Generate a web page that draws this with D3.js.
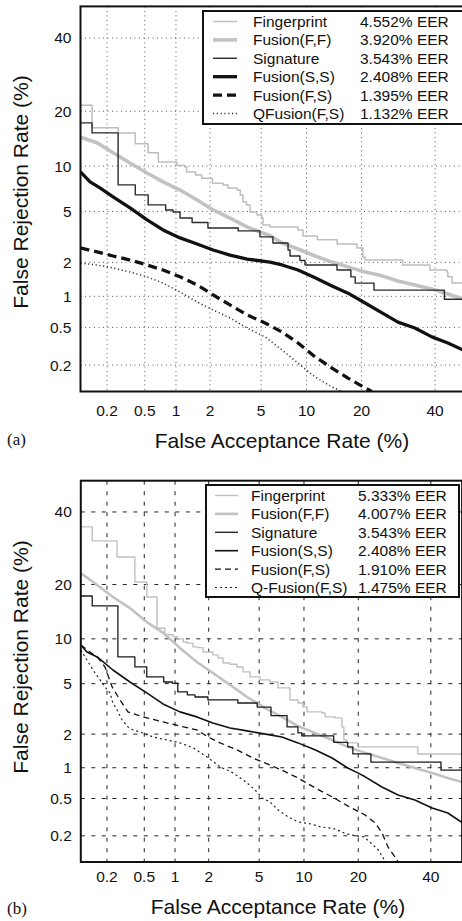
<!DOCTYPE html>
<html>
<head>
<meta charset="utf-8">
<script src="https://cdn.jsdelivr.net/npm/d3@7"></script>
<style>
  body { margin: 0; background: #fff; }
  svg text { font-family: "Liberation Sans", Arial, sans-serif; fill: #111; }
</style>
</head>
<body>
<script>
// tick values (%), both axes
var ticks = [0.2, 0.5, 1, 2, 5, 10, 20, 40];

var labelsA = ["Fingerprint", "Fusion(F,F)", "Signature", "Fusion(S,S)", "Fusion(F,S)", "QFusion(F,S)"];
var eerA = ["4.552% EER", "3.920% EER", "3.543% EER", "2.408% EER", "1.395% EER", "1.132% EER"];
var labelsB = ["Fingerprint", "Fusion(F,F)", "Signature", "Fusion(S,S)", "Fusion(F,S)", "Q-Fusion(F,S)"];
var eerB = ["5.333% EER", "4.007% EER", "3.543% EER", "2.408% EER", "1.910% EER", "1.475% EER"];

// [FAR %, FRR %]
var fingerprintA = [[0.1,21.4],[0.136,16.5],[0.264,15.5],[0.40,13.5],[0.54,12.0],[0.68,10.6],[1.02,10.1],[1.21,9.86],[1.25,9.2],[1.5,8.8],[1.7,8.4],[2.08,8.2],[2.1,7.8],[2.56,7.6],[2.8,7.26],[3.3,7.03],[3.5,6.52],[3.67,5.83],[3.9,5.56],[4.15,4.95],[4.67,4.70],[5.05,4.47],[5.15,3.97],[5.77,3.84],[8.85,3.64],[9.5,3.27],[11.6,3.05],[15,2.83],[19,2.63],[20.3,2.22],[20.8,2.09],[30.4,1.90],[38.4,1.72],[43.7,1.65],[44,1.50],[45.3,1.32],[50,1.32]];
var fusionFFA = [[0.1,14.7],[0.155,13.7],[0.233,12.0],[0.353,10.45],[0.527,9.06],[0.755,7.95],[1.09,7.03],[1.55,6.02],[2.12,5.12],[2.91,4.47],[3.94,3.84],[4.9,3.51],[5.77,3.3],[6.97,2.88],[8.85,2.58],[11.25,2.26],[14.05,2.01],[17.1,1.83],[20.8,1.65],[24.9,1.53],[29.1,1.38],[33.9,1.27],[39.0,1.17],[44.0,1.05],[50,0.92]];
var signatureA = [[0.1,17.5],[0.136,15.5],[0.264,7.6],[0.40,6.52],[0.54,5.56],[0.80,5.12],[0.94,4.95],[1.09,4.47],[1.40,4.15],[1.92,3.77],[3.37,3.58],[4.9,3.22],[6.05,2.88],[7.64,2.53],[7.87,2.26],[9.1,2.07],[9.78,1.90],[14.96,1.72],[17.7,1.50],[18.6,1.32],[22.9,1.14],[42.9,0.94],[50,0.94]];
var fusionSSA = [[0.1,9.2],[0.129,7.95],[0.167,7.26],[0.233,6.32],[0.353,5.29],[0.527,4.33],[0.755,3.64],[1.09,3.16],[1.55,2.83],[2.12,2.53],[2.91,2.30],[3.94,2.13],[5.77,2.01],[6.97,1.90],[8.85,1.72],[11.25,1.47],[14.05,1.245],[17.1,1.07],[20.8,0.866],[24.9,0.695],[29.1,0.565],[33.9,0.493],[39,0.40],[44,0.346],[50,0.28]];
var fusionFSA = [[0.1,2.63],[0.155,2.44],[0.233,2.26],[0.353,2.09],[0.527,1.90],[0.755,1.72],[1.09,1.50],[1.55,1.27],[2.12,1.03],[2.91,0.83],[3.94,0.665],[5.33,0.553],[6.97,0.449],[8.85,0.346],[11.25,0.246],[14.05,0.185],[17.1,0.143],[20.8,0.11],[22.4,0.1]];
var qfusionA = [[0.1,1.97],[0.155,1.90],[0.233,1.79],[0.353,1.65],[0.527,1.50],[0.755,1.32],[1.09,1.095],[1.55,0.885],[2.12,0.742],[2.91,0.62],[3.94,0.493],[5.33,0.40],[6.97,0.292],[8.85,0.21],[11.25,0.147],[14.05,0.113],[15.9,0.1]];

var fingerprintB = [[0.1,35.4],[0.136,31.3],[0.258,26.8],[0.40,20.6],[0.53,17.3],[0.67,11.6],[0.80,10.6],[0.96,10.3],[1.05,10.0],[1.19,9.56],[1.3,9.4],[1.46,8.9],[1.6,8.8],[1.79,8.26],[2.17,7.9],[2.4,7.55],[2.63,6.98],[3.0,6.85],[3.4,6.55],[3.79,6.06],[4.28,5.59],[5.08,5.32],[5.97,5.14],[6.78,4.66],[8.15,3.78],[9.17,3.58],[9.86,3.33],[10.45,3.05],[12.8,2.99],[13.35,2.78],[15.15,2.73],[16.5,2.30],[16.9,1.78],[17.5,1.68],[19.9,1.55],[36.0,1.34],[50,1.34]];
var fusionFFB = [[0.1,22.7],[0.155,19.9],[0.233,17.3],[0.355,15.1],[0.53,12.6],[0.767,10.9],[1.11,8.77],[1.58,7.09],[2.17,5.96],[3.0,4.9],[4.07,3.98],[5.08,3.46],[5.5,3.27],[7.2,2.78],[9.17,2.34],[11.65,2.05],[14.6,1.78],[17.7,1.55],[21.6,1.37],[25.8,1.23],[30.2,1.11],[35.1,0.995],[40.4,0.894],[45.4,0.80],[50,0.73]];
var signatureB = [[0.1,17.5],[0.136,15.5],[0.264,7.66],[0.40,6.56],[0.53,5.59],[0.78,5.14],[0.94,5.05],[1.06,4.35],[1.3,4.13],[1.52,3.98],[1.97,3.78],[3.46,3.58],[4.84,3.33],[6.07,2.85],[7.8,2.30],[9.17,2.05],[9.7,1.93],[14.9,1.70],[17.7,1.55],[18.8,1.34],[23.0,1.13],[43.2,0.95],[50,0.95]];
var fusionSSB = [[0.1,9.16],[0.118,8.26],[0.155,7.66],[0.233,6.25],[0.355,5.14],[0.53,4.27],[0.767,3.52],[1.11,3.05],[1.58,2.78],[2.17,2.48],[3.0,2.25],[4.07,2.13],[5.97,1.97],[7.2,1.89],[9.17,1.68],[11.65,1.46],[14.6,1.23],[17.7,0.995],[19.9,0.894],[21.6,0.82],[25.8,0.653],[30.2,0.543],[35.1,0.484],[40.4,0.40],[45.4,0.354],[50,0.28]];
var fusionFSB = [[0.1,9.16],[0.128,8.26],[0.155,7.66],[0.19,6.56],[0.228,4.74],[0.278,3.78],[0.338,3.05],[0.42,2.88],[0.53,2.73],[0.767,2.53],[1.11,2.34],[1.58,2.17],[1.97,1.89],[2.49,1.68],[3.4,1.46],[4.5,1.23],[5.97,1.06],[7.2,0.95],[9.17,0.80],[11.65,0.64],[14.6,0.52],[17.7,0.42],[21.6,0.337],[24.0,0.278],[25.8,0.216],[27.4,0.15],[29.3,0.115],[30.2,0.1]];
var qfusionB = [[0.1,8.5],[0.139,6.25],[0.158,5.59],[0.19,4.74],[0.216,4.27],[0.233,3.58],[0.258,3.16],[0.293,2.63],[0.338,2.30],[0.383,2.17],[0.451,2.09],[0.612,1.89],[0.838,1.78],[1.11,1.68],[1.46,1.52],[1.93,1.26],[2.49,1.02],[3.17,0.894],[4.07,0.716],[4.83,0.583],[5.24,0.507],[5.97,0.462],[6.78,0.382],[7.92,0.322],[9.17,0.285],[11.0,0.27],[12.6,0.251],[14.95,0.24],[16.9,0.216],[18.4,0.205],[21.3,0.195],[23.0,0.166],[24.8,0.139],[25.5,0.124],[26.5,0.105]];

var W = 462, H = 921;
var svg = d3.select('body').append('svg').attr('width', W).attr('height', H);

// inverse normal cdf (Acklam)
function probit(p) {
  var a = [-39.6968302866538, 220.946098424521, -275.928510446969, 138.357751867269, -30.6647980661472, 2.50662827745924];
  var b = [-54.4760987982241, 161.585836858041, -155.698979859887, 66.8013118877197, -13.2806815528857];
  var c = [-0.00778489400243029, -0.322396458041136, -2.40075827716184, -2.54973253934373, 4.37466414146497, 2.93816398269878];
  var d = [0.00778469570904146, 0.32246712907004, 2.445134137143, 3.75440866190742];
  var q, r;
  if (p < 0.02425) {
    q = Math.sqrt(-2 * Math.log(p));
    return (((((c[0]*q+c[1])*q+c[2])*q+c[3])*q+c[4])*q+c[5]) / ((((d[0]*q+d[1])*q+d[2])*q+d[3])*q+1);
  } else if (p <= 1 - 0.02425) {
    q = p - 0.5; r = q * q;
    return (((((a[0]*r+a[1])*r+a[2])*r+a[3])*r+a[4])*r+a[5])*q / (((((b[0]*r+b[1])*r+b[2])*r+b[3])*r+b[4])*r+1);
  }
  q = Math.sqrt(-2 * Math.log(1 - p));
  return -(((((c[0]*q+c[1])*q+c[2])*q+c[3])*q+c[4])*q+c[5]) / ((((d[0]*q+d[1])*q+d[2])*q+d[3])*q+1);
}

var panels = [
  { id: 'a', l: 80.5, r: 466.75, t: 6.4, b: 391.5, grid: '1,3.5', gridColor: '#555',
    series: [fingerprintA, fusionFFA, signatureA, fusionSSA, fusionFSA, qfusionA],
    labels: labelsA, eer: eerA,
    styles: [
      { c: '#bdbdbd', w: 1.5, step: true },
      { c: '#c2c2c2', w: 3.6 },
      { c: '#2a2a2a', w: 1.4, step: true },
      { c: '#111', w: 3.3 },
      { c: '#111', w: 3.3, d: '9,5' },
      { c: '#333', w: 1.5, d: '1.2,2.6' }
    ],
    leg: { x0: 203, x1: 475, y0: 11, y1: 124, row0: 21.5, dy: 18.4, s0: 213, s1: 237, tx: 253, ex: 360 },
    xTitle: { x: 282, y: 448 }, yTitle: { x: 28, y: 192 }, tickY: 416, tag: { x: 7, y: 445 } },
  { id: 'b', l: 80.8, r: 462.1, t: 480.7, b: 862, grid: '4,6.5', gridColor: '#222',
    series: [fingerprintB, fusionFFB, signatureB, fusionSSB, fusionFSB, qfusionB],
    labels: labelsB, eer: eerB,
    styles: [
      { c: '#c0c0c0', w: 1.4, step: true },
      { c: '#c2c2c2', w: 2.6 },
      { c: '#1a1a1a', w: 1.3, step: true },
      { c: '#111', w: 1.6 },
      { c: '#111', w: 1.3, d: '6,4' },
      { c: '#222', w: 1.2, d: '2,3' }
    ],
    leg: { x0: 206, x1: 459, y0: 485, y1: 597, row0: 495.5, dy: 18.4, s0: 215, s1: 238, tx: 251, ex: 358 },
    xTitle: { x: 278, y: 914 }, yTitle: { x: 28, y: 657 }, tickY: 882, tag: { x: 7, y: 914 } }
];

panels.forEach(function (p) {
  var xs = d3.scaleLinear().domain([probit(0.001), probit(0.5)]).range([p.l, p.r]);
  var ys = d3.scaleLinear().domain([probit(0.001), probit(0.5)]).range([p.b, p.t]);
  var x = function (v) { return xs(probit(v / 100)); };
  var y = function (v) { return ys(probit(v / 100)); };
  var g = svg.append('g');

  g.append('clipPath').attr('id', 'clip' + p.id)
    .append('rect').attr('x', p.l).attr('y', p.t).attr('width', p.r - p.l).attr('height', p.b - p.t);

  // grid
  var grid = g.append('g').attr('stroke', p.gridColor).attr('stroke-width', 1).attr('stroke-dasharray', p.grid);
  ticks.forEach(function (v) {
    grid.append('line').attr('x1', x(v)).attr('x2', x(v)).attr('y1', p.t).attr('y2', p.b);
    grid.append('line').attr('y1', y(v)).attr('y2', y(v)).attr('x1', p.l).attr('x2', p.r);
  });

  // curves
  var curves = g.append('g').attr('clip-path', 'url(#clip' + p.id + ')').attr('fill', 'none');
  p.series.forEach(function (s, i) {
    var st = p.styles[i];
    var line = d3.line()
      .x(function (d) { return x(d[0]); })
      .y(function (d) { return y(d[1]); })
      .curve(st.step ? d3.curveStepAfter : d3.curveLinear);
    curves.append('path').attr('d', line(s))
      .attr('stroke', st.c).attr('stroke-width', st.w)
      .attr('stroke-dasharray', st.d || null)
      .attr('stroke-linejoin', 'round');
  });

  // legend
  var L = p.leg;
  var lg = g.append('g');
  lg.append('rect').attr('x', L.x0).attr('y', L.y0).attr('width', L.x1 - L.x0).attr('height', L.y1 - L.y0)
    .attr('fill', '#fff').attr('stroke', '#111').attr('stroke-width', 2);
  p.labels.forEach(function (lab, i) {
    var st = p.styles[i], cy = L.row0 + i * L.dy;
    lg.append('line').attr('x1', L.s0).attr('x2', L.s1).attr('y1', cy).attr('y2', cy)
      .attr('stroke', st.c).attr('stroke-width', st.w).attr('stroke-dasharray', st.d || null);
    lg.append('text').attr('x', L.tx).attr('y', cy + 5.5).attr('font-size', 15.5).text(lab);
    lg.append('text').attr('x', L.ex).attr('y', cy + 5.5).attr('font-size', 15.5).text(p.eer[i]);
  });

  // frame
  g.append('rect').attr('x', p.l).attr('y', p.t).attr('width', p.r - p.l).attr('height', p.b - p.t)
    .attr('fill', 'none').attr('stroke', '#111').attr('stroke-width', 2);

  // tick labels
  ticks.forEach(function (v) {
    g.append('text').attr('x', x(v)).attr('y', p.tickY).attr('text-anchor', 'middle')
      .attr('font-size', 15.5).text(v);
    g.append('text').attr('x', p.l - 9).attr('y', y(v) + 5.5).attr('text-anchor', 'end')
      .attr('font-size', 15.5).text(v);
  });

  // titles
  g.append('text').attr('x', p.xTitle.x).attr('y', p.xTitle.y).attr('text-anchor', 'middle')
    .attr('font-size', 21).text('False Acceptance Rate (%)');
  g.append('text').attr('transform', 'translate(' + p.yTitle.x + ',' + p.yTitle.y + ') rotate(-90)')
    .attr('text-anchor', 'middle').attr('font-size', 21).text('False Rejection Rate (%)');
  g.append('text').attr('x', p.tag.x).attr('y', p.tag.y)
    .style('font-family', '"Liberation Serif", "Times New Roman", serif')
    .attr('font-size', 17).text('(' + p.id + ')');
});
</script>
</body>
</html>
